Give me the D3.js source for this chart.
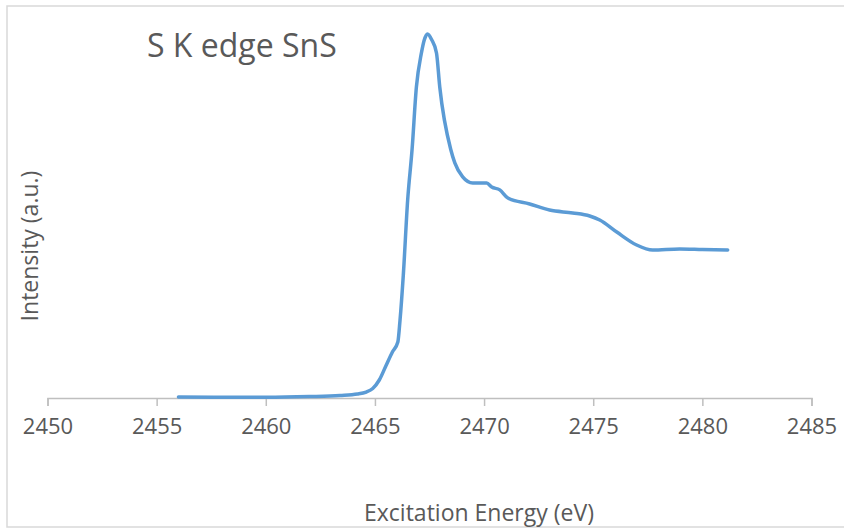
<!DOCTYPE html>
<html><head><meta charset="utf-8">
<script src="https://cdn.jsdelivr.net/npm/d3@7"></script>
<style>body{margin:0;background:#fff;} svg{display:block;}</style>
</head><body>
<svg id="c" width="844" height="531"></svg>
<script>
const energy = [2456.0,2458.0,2460.0,2462.0,2463.4,2464.2,2464.6,2464.9,2465.2,2465.5,2465.8,2466.05,2466.15,2466.3,2466.5,2466.7,2466.9,2467.13,2467.25,2467.41,2467.6,2467.82,2467.97,2468.48,2468.66,2469.02,2469.48,2470.12,2470.35,2470.72,2471.09,2472.09,2473.0,2474.06,2474.84,2475.3,2476.08,2476.99,2477.72,2478.96,2480.0,2481.16];
const intensity = [0.006,0.004,0.004,0.008,0.014,0.022,0.033,0.053,0.10,0.178,0.256,0.311,0.433,0.683,1.10,1.378,1.728,1.917,1.985,2.022,1.99,1.917,1.728,1.378,1.306,1.228,1.194,1.194,1.172,1.156,1.111,1.078,1.044,1.028,1.011,0.989,0.922,0.85,0.822,0.828,0.825,0.822];
const xTicks = [2450,2455,2460,2465,2470,2475,2480,2485];
const title = "S K edge SnS";
const xLabel = "Excitation Energy (eV)";
const yLabel = "Intensity (a.u.)";

const svg = d3.select("#c");
const font = "'Open Sans', sans-serif";
svg.append("rect").attr("x",7).attr("y",6).attr("width",850).attr("height",521)
  .attr("fill","none").attr("stroke","#D9D9D9").attr("stroke-width",1.5);

const x = d3.scaleLinear().domain([2450,2485]).range([47.5,811.5]);
const y = d3.scaleLinear().domain([0,2.1]).range([398,20]);

const ax = svg.append("g").attr("transform","translate(0,398)")
  .call(d3.axisBottom(x).tickValues(xTicks).tickSize(8).tickPadding(12).tickFormat(d3.format("d")));
ax.select(".domain").attr("stroke","#BFBFBF").attr("stroke-width",1.5);
ax.selectAll(".tick line").attr("stroke","#BFBFBF").attr("stroke-width",1.5);
ax.selectAll(".tick text").attr("fill","#595959").style("font-family",font).style("font-size","22px");

const data = energy.map((e,i)=>[e,intensity[i]]);
svg.append("path").datum(data)
  .attr("fill","none").attr("stroke","#5B9BD5").attr("stroke-width",3.5)
  .attr("stroke-linejoin","round").attr("stroke-linecap","round")
  .attr("d", d3.line().x(d=>x(d[0])).y(d=>y(d[1])).curve(d3.curveMonotoneX));

svg.append("text").attr("x",147).attr("y",57).text(title)
  .attr("fill","#595959").style("font-family",font).style("font-size","32px");
svg.append("text").attr("x",479).attr("y",521).attr("text-anchor","middle").text(xLabel)
  .attr("fill","#595959").style("font-family",font).style("font-size","23px");
svg.append("text").attr("transform","translate(38,246) rotate(-90)").attr("text-anchor","middle").text(yLabel)
  .attr("fill","#595959").style("font-family",font).style("font-size","23px");
</script>
</body></html>
